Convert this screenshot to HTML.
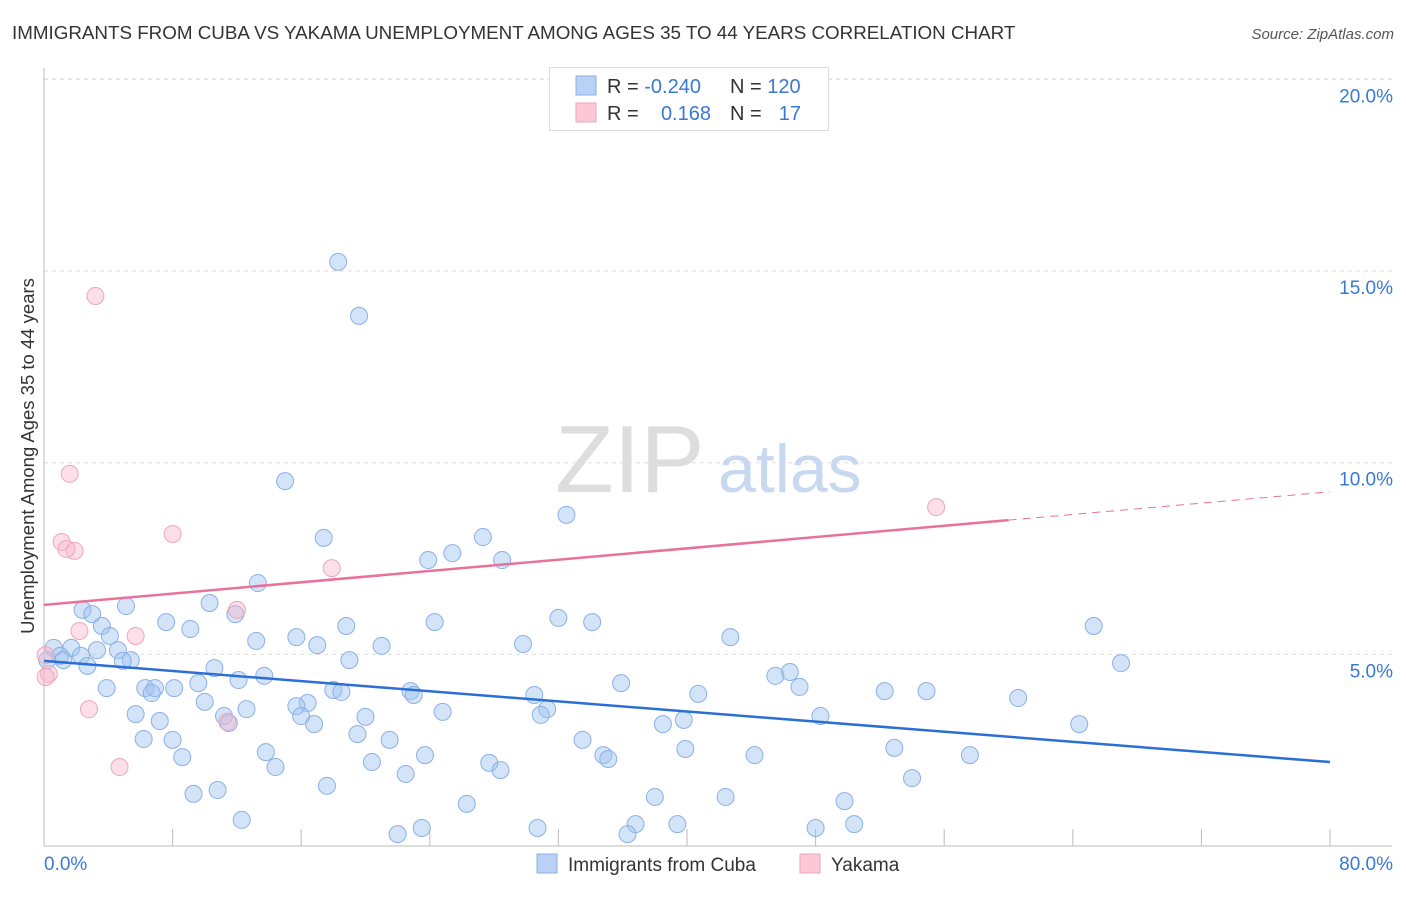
<!DOCTYPE html>
<html><head><meta charset="utf-8"><style>
body{margin:0;background:#fff;font-family:"Liberation Sans",sans-serif;}
svg text{font-family:"Liberation Sans",sans-serif;}
</style></head><body>
<svg id="chart" width="1406" height="892">
<text x="12" y="39" font-size="18.8" fill="#333">IMMIGRANTS FROM CUBA VS YAKAMA UNEMPLOYMENT AMONG AGES 35 TO 44 YEARS CORRELATION CHART</text>
<text x="1394" y="39" font-size="15" fill="#555" font-style="italic" text-anchor="end">Source: ZipAtlas.com</text>
<text x="34" y="456" font-size="18.5" fill="#333" text-anchor="middle" transform="rotate(-90 34 456)">Unemployment Among Ages 35 to 44 years</text>
<g id="grid"></g>
<g id="ticks"></g>
<text x="555" y="492" font-size="96" fill="#ddd" font-family="Liberation Serif">ZIP</text>
<text x="718" y="492" font-size="68" fill="#c8d8f0">atlas</text>
<g id="pts"></g>
<g id="trend"></g>
<g>
<rect x="549.5" y="67.5" width="279" height="63" fill="#fff" stroke="#ddd"/>
<rect x="576" y="76" width="20" height="19" fill="#b8d1f5" stroke="#8ab0e8"/>
<rect x="576" y="103" width="20" height="19" fill="#fcc8d7" stroke="#eea6bc"/>
<text x="607" y="93" font-size="20" fill="#333">R = <tspan fill="#3a78d4">-0.240</tspan></text>
<text x="730" y="93" font-size="20" fill="#333">N = <tspan fill="#3a78d4">120</tspan></text>
<text x="607" y="120" font-size="20" fill="#333">R =</text>
<text x="711" y="120" font-size="20" fill="#3a78d4" text-anchor="end">0.168</text>
<text x="730" y="120" font-size="20" fill="#333">N =</text>
<text x="801" y="120" font-size="20" fill="#3a78d4" text-anchor="end">17</text>
</g>
<g>
<rect x="537" y="854" width="20" height="19" fill="#b8d1f5" stroke="#8ab0e8"/>
<text x="568" y="871" font-size="19" fill="#333">Immigrants from Cuba</text>
<rect x="800" y="854" width="20" height="19" fill="#fcc8d7" stroke="#eea6bc"/>
<text x="831" y="871" font-size="19" fill="#333">Yakama</text>
</g>
</svg>
<script>
const yTicks=[5,10,15,20];
const yTickLabels=["5.0%","10.0%","15.0%","20.0%"];
const xTickVals=[0,8,16,24,32,40,48,56,64,72,80];
const xEndLabels=["0.0%","80.0%"];
const cubaX=[18.3,19.6,15.0,32.5,27.3,17.4,25.4,23.9,28.5,13.3,10.3,5.1,2.4,3.0,11.9,32.0,34.1,7.6,24.3,3.6,9.1,18.8,65.3,4.1,15.7,42.7,13.2,29.8,21.0,17.0,3.3,4.6,1.7,0.6,1.0,0.2,1.2,2.3,5.4,4.9,19.0,2.7,10.6,67.0,46.4,45.5,13.7,12.1,9.6,3.9,6.3,6.9,8.1,6.7,18.0,18.5,22.8,23.0,35.9,47.0,30.5,40.7,52.3,54.9,60.6,16.4,15.7,10.0,12.6,31.3,24.8,5.7,11.2,16.0,20.0,30.9,48.3,7.2,16.8,11.5,38.5,39.8,64.4,19.5,6.2,8.0,21.5,33.5,13.8,39.9,52.9,8.6,34.8,35.1,23.7,44.2,57.6,20.4,27.7,14.4,28.4,22.5,54.0,17.6,9.3,10.8,38.0,42.4,26.3,49.8,12.3,22.0,23.5,30.7,36.8,39.4,36.3,48.0,50.4];
const cubaY=[15.24,13.83,9.52,8.64,8.06,8.04,7.64,7.46,7.46,6.86,6.34,6.26,6.16,6.05,6.05,5.95,5.84,5.84,5.84,5.74,5.66,5.74,5.74,5.48,5.45,5.45,5.35,5.27,5.22,5.24,5.11,5.11,5.17,5.17,4.96,4.85,4.85,4.96,4.85,4.83,4.85,4.70,4.64,4.77,4.54,4.44,4.44,4.33,4.25,4.12,4.12,4.12,4.12,3.99,4.07,4.02,4.04,3.94,4.25,4.15,3.94,3.97,4.04,4.04,3.86,3.73,3.65,3.76,3.57,3.57,3.50,3.44,3.39,3.39,3.37,3.42,3.39,3.26,3.18,3.21,3.18,3.29,3.18,2.92,2.79,2.77,2.77,2.77,2.45,2.53,2.56,2.32,2.37,2.27,2.37,2.37,2.37,2.19,2.17,2.06,1.98,1.88,1.77,1.57,1.36,1.46,1.28,1.28,1.10,1.17,0.68,0.31,0.47,0.47,0.57,0.57,0.31,0.47,0.57];
const yakX=[3.2,1.6,8.0,1.1,1.9,1.4,17.9,55.5,12.0,5.7,2.2,11.4,2.8,4.7,0.3,0.1,0.1];
const yakY=[14.35,9.71,8.14,7.93,7.70,7.75,7.25,8.84,6.16,5.48,5.61,3.24,3.57,2.06,4.49,4.41,4.98];
const cubaTrend=[4.83,2.19];
const yakTrend=[6.29,9.24];
const yakSolidEnd=60;
const X=v=>44+v/80*1286, Y=v=>846-v*38.33;
const NS="http://www.w3.org/2000/svg";
function mk(tag,attrs,parent){const e=document.createElementNS(NS,tag);for(const k in attrs)e.setAttribute(k,attrs[k]);document.getElementById(parent).appendChild(e);return e;}
yTicks.forEach((t,i)=>{
  const l=mk('line',{x1:44,x2:1392,y1:Y(t),y2:Y(t),stroke:'#ddd','stroke-dasharray':'4,4'},'grid');
  
  
  const tx=mk('text',{x:1393,y:Y(t)+23,'font-size':19,fill:'#3a78d4','text-anchor':'end'},'ticks');
  tx.textContent=yTickLabels[i];
  
  
});
const topGrid=mk('line',{x1:44,x2:1392,y1:79,y2:79,stroke:'#ddd','stroke-dasharray':'4,4'},'grid');


mk('line',{x1:44,x2:44,y1:68,y2:846,stroke:'#bbb'},'ticks');
mk('line',{x1:44,x2:1392,y1:846,y2:846,stroke:'#bbb'},'ticks');
xTickVals.forEach(t=>{
  const l=mk('line',{x1:X(t),x2:X(t),y1:829,y2:846,stroke:'#bbb'},'ticks');
  
  
});
[[0,'start',44],[80,'end',1393]].forEach((a,i)=>{
  const tx=mk('text',{x:a[2],y:870,'font-size':19,fill:'#3a78d4','text-anchor':a[1]},'ticks');
  tx.textContent=xEndLabels[i];
  
  
});
cubaX.forEach((x,i)=>{
  const c=mk('circle',{cx:X(x),cy:Y(cubaY[i]),r:8.5,fill:'rgba(160,195,240,0.45)',stroke:'#8ab0e8','stroke-width':1},'pts');
  
  
});
yakX.forEach((x,i)=>{
  const c=mk('circle',{cx:X(x),cy:Y(yakY[i]),r:8.5,fill:'rgba(248,185,205,0.45)',stroke:'#eea6bc','stroke-width':1},'pts');
  
  
});
const b=mk('line',{x1:X(0),y1:Y(cubaTrend[0]),x2:X(80),y2:Y(cubaTrend[1]),stroke:'#2b6fd6','stroke-width':2.5},'trend');


const yAt=x=>yakTrend[0]+(yakTrend[1]-yakTrend[0])*x/80;
const p1=mk('line',{x1:X(0),y1:Y(yakTrend[0]),x2:X(yakSolidEnd),y2:Y(yAt(yakSolidEnd)),stroke:'#e8729a','stroke-width':2.5},'trend');


const p2=mk('line',{x1:X(yakSolidEnd),y1:Y(yAt(yakSolidEnd)),x2:X(80),y2:Y(yakTrend[1]),stroke:'#e8729a','stroke-width':1,'stroke-dasharray':'8,6'},'trend');


</script>
</body></html>
